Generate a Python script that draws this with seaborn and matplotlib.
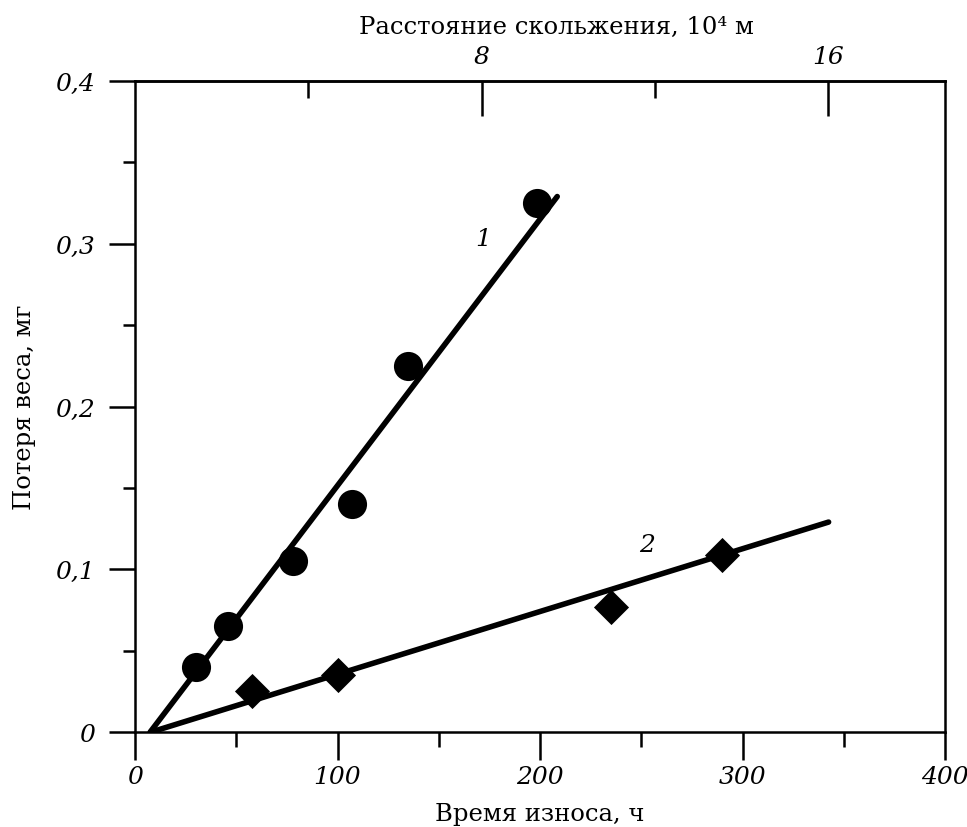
import numpy as np
import pandas as pd
import matplotlib
import matplotlib.pyplot as plt
import seaborn as sns
from matplotlib.ticker import MultipleLocator, FuncFormatter, FixedLocator

matplotlib.use('Agg')

# Series 1 (circles) and 2 (diamonds): wear time, h vs weight loss, mg
time_1 = [30, 46, 78, 107, 135, 198.5]
loss_1 = [0.040, 0.065, 0.105, 0.140, 0.225, 0.325]
time_2 = [58, 100, 235, 290]
loss_2 = [0.025, 0.035, 0.077, 0.109]

# fitted lines (end points)
fit_1_x = [7.5, 208.5]
fit_1_y = [0.0, 0.329]
fit_2_x = [8.0, 342.5]
fit_2_y = [0.0, 0.129]

# hours per 10^4 m of sliding distance (top axis)
hours_per_unit = 21.4

curve_labels = ['1', '2']
curve_label_x = [172, 253]
curve_label_y = [0.303, 0.1155]

sns.set_style('ticks')
plt.rcParams['font.family'] = ['DejaVu Serif']
plt.rcParams['text.color'] = 'black'
plt.rcParams['axes.labelcolor'] = 'black'
plt.rcParams['xtick.color'] = 'black'
plt.rcParams['ytick.color'] = 'black'
plt.rcParams['axes.edgecolor'] = 'black'

df1 = pd.DataFrame({'t': time_1, 'w': loss_1})
df2 = pd.DataFrame({'t': time_2, 'w': loss_2})
line1 = pd.DataFrame({'t': fit_1_x, 'w': fit_1_y})
line2 = pd.DataFrame({'t': fit_2_x, 'w': fit_2_y})

fig = plt.figure(figsize=(9.67, 8.28), dpi=100)
ax = fig.add_axes([0.1396, 0.1147, 0.8377, 0.7863])

sns.lineplot(data=line1, x='t', y='w', color='black', linewidth=4.0, ax=ax)
sns.lineplot(data=line2, x='t', y='w', color='black', linewidth=4.0, ax=ax)
sns.scatterplot(data=df1, x='t', y='w', marker='o', s=440, color='black',
                edgecolor='black', linewidth=0, ax=ax, zorder=3)
sns.scatterplot(data=df2, x='t', y='w', marker='D', s=320, color='black',
                edgecolor='black', linewidth=0, ax=ax, zorder=3)

for lab, lx, ly in zip(curve_labels, curve_label_x, curve_label_y):
    ax.text(lx, ly, lab, fontsize=18, style='italic', ha='center', va='center')

ax.set_xlim(0, 400)
ax.set_ylim(0, 0.4)

for s in ax.spines.values():
    s.set_linewidth(1.8)
    s.set_visible(True)
    s.set_color('black')

comma = FuncFormatter(lambda v, p: '0' if v == 0 else f'{v:.1f}'.replace('.', ','))
ax.xaxis.set_major_locator(MultipleLocator(100))
ax.xaxis.set_minor_locator(MultipleLocator(50))
ax.yaxis.set_major_locator(MultipleLocator(0.1))
ax.yaxis.set_minor_locator(MultipleLocator(0.05))
ax.yaxis.set_major_formatter(comma)
ax.xaxis.set_major_formatter(FuncFormatter(lambda v, p: f'{v:.0f}'))

ax.tick_params(axis='x', which='major', direction='out', length=20, width=1.8,
               pad=4, labelsize=18, top=False)
ax.tick_params(axis='x', which='minor', direction='out', length=11, width=1.8, top=False)
ax.tick_params(axis='y', which='major', direction='out', length=19, width=1.8,
               pad=10, labelsize=18, right=False)
ax.tick_params(axis='y', which='minor', direction='out', length=9, width=1.8, right=False)
for t in ax.get_xticklabels() + ax.get_yticklabels():
    t.set_style('italic')

ax.set_xlabel('Время износа, ч', fontsize=17.5, labelpad=10)
ax.set_ylabel('Потеря веса, мг', fontsize=17.5, labelpad=14)

top = ax.secondary_xaxis('top', functions=(lambda x: x / hours_per_unit,
                                           lambda x: x * hours_per_unit))
top.xaxis.set_major_locator(FixedLocator([8, 16]))
top.xaxis.set_minor_locator(FixedLocator([4, 12]))
top.tick_params(axis='x', which='major', direction='in', length=25, width=1.8,
                pad=9, labelsize=18)
top.tick_params(axis='x', which='minor', direction='in', length=12, width=1.8)
top.spines['top'].set_linewidth(1.8)
top.spines['top'].set_color('black')
for t in top.get_xticklabels():
    t.set_style('italic')
top.set_xlabel('Расстояние скольжения, 10⁴ м', fontsize=17.5, labelpad=9, x=0.52)

fig.savefig('out.png', dpi=100)
plt.close(fig)
